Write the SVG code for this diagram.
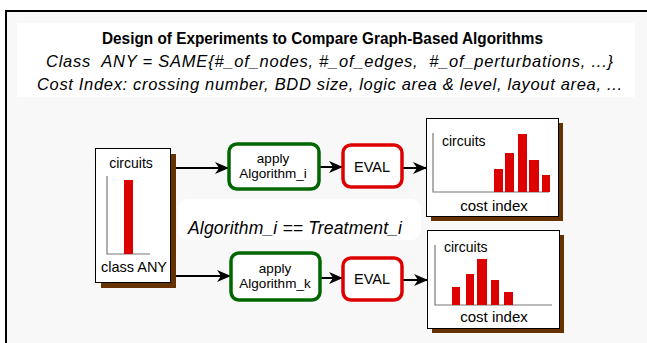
<svg xmlns="http://www.w3.org/2000/svg" width="647" height="343" viewBox="0 0 647 343">
<style>
text{font-family:"Liberation Sans",Arial,sans-serif;fill:#000}
.t{font-size:13px;text-anchor:middle}
.it{font-style:italic}
.g{fill:#fff;stroke:#006600;stroke-width:3.5}
.r{fill:#fff;stroke:#dd0000;stroke-width:3.5}
.bx{fill:#fff;stroke:#000;stroke-width:1}
.sh{fill:#663300}
.ax{fill:none;stroke:#777;stroke-width:1.2}
.bar{fill:#dd0000}
.cn{stroke:#000;stroke-width:2;fill:none;marker-end:url(#ah)}
</style>
<defs>
<marker id="ah" markerWidth="14" markerHeight="12" refX="13" refY="6" orient="auto" markerUnits="userSpaceOnUse">
<path d="M0,0 L14,6 L0,12 L4,6 Z" fill="#000"/>
</marker>
</defs>
<rect x="0" y="0" width="647" height="343" fill="#fff"/>
<rect x="6" y="11" width="700" height="400" fill="#f8f8f8" stroke="#000" stroke-width="2"/>
<g id="header">
<rect x="17" y="23" width="618" height="74" fill="#fff"/>
<text x="102" y="44" font-size="16" font-weight="bold" textLength="441" lengthAdjust="spacingAndGlyphs">Design of Experiments to Compare Graph-Based Algorithms</text>
<text x="46" y="67" font-size="16.5" class="it" textLength="567" lengthAdjust="spacing" xml:space="preserve">Class  ANY = SAME{#_of_nodes, #_of_edges,  #_of_perturbations, ...}</text>
<text x="37" y="90" font-size="16.5" class="it" textLength="585" lengthAdjust="spacing">Cost Index: crossing number, BDD size, logic area &amp; level, layout area, ...</text>
</g>
<g id="treatment">
<rect x="178" y="199" width="243" height="41" rx="10" fill="#fff"/>
<text x="188" y="234" font-size="17.5" class="it" textLength="214" lengthAdjust="spacing">Algorithm_i == Treatment_i</text>
</g>
<g id="connectors">
<line class="cn" x1="176" y1="168" x2="228" y2="168"/>
<line class="cn" x1="176" y1="276" x2="230" y2="276"/>
<line class="cn" x1="320" y1="167" x2="342" y2="167"/>
<line class="cn" x1="321" y1="278" x2="342" y2="278"/>
<line class="cn" x1="403" y1="168" x2="426" y2="168"/>
<line class="cn" x1="403" y1="280" x2="427" y2="280"/>
</g>
<g id="classAny">
<rect class="sh" x="101" y="154" width="75" height="134"/>
<rect class="bx" x="95.5" y="148.5" width="75" height="134"/>
<text class="t" x="131" y="168" style="font-size:14px">circuits</text>
<polyline class="ax" points="107,176 107,254 150,254"/>
<rect class="bar" x="124" y="180" width="9" height="74"/>
<text class="t" x="134" y="272" style="font-size:14.5px">class ANY</text>
</g>
<g id="algI">
<rect class="g" x="229" y="144" width="90" height="45" rx="8"/>
<text class="t" x="273" y="163" style="font-size:13.5px">apply</text>
<text class="t" x="273" y="178" style="font-size:13.5px">Algorithm_i</text>
</g>
<g id="algK">
<rect class="g" x="231" y="253" width="89" height="47" rx="8"/>
<text class="t" x="275" y="273" style="font-size:13.5px">apply</text>
<text class="t" x="275" y="288" style="font-size:13.5px">Algorithm_k</text>
</g>
<g id="eval1">
<rect class="r" x="343" y="145" width="59" height="42" rx="8"/>
<text class="t" x="372" y="172" style="font-size:14.5px">EVAL</text>
</g>
<g id="eval2">
<rect class="r" x="343" y="258" width="59" height="42" rx="8"/>
<text class="t" x="372" y="284" style="font-size:14.5px">EVAL</text>
</g>
<g id="hist1">
<rect class="sh" x="431" y="123" width="132" height="98"/>
<rect class="bx" x="426.5" y="118.5" width="132" height="98"/>
<polyline class="ax" points="433,133 433,192 549,192"/>
<text x="442" y="146" font-size="14">circuits</text>
<rect class="bar" x="494" y="169" width="9" height="23"/>
<rect class="bar" x="505" y="153" width="9" height="39"/>
<rect class="bar" x="518" y="134" width="9" height="58"/>
<rect class="bar" x="529" y="160" width="10" height="32"/>
<rect class="bar" x="542" y="175" width="8" height="17"/>
<text class="t" x="494" y="211" style="font-size:15px">cost index</text>
</g>
<g id="hist2">
<rect class="sh" x="432" y="235" width="132" height="98"/>
<rect class="bx" x="427.5" y="230.5" width="132" height="98"/>
<polyline class="ax" points="435,245 435,305 552,305"/>
<text x="444" y="252" font-size="14">circuits</text>
<rect class="bar" x="452" y="287" width="8" height="18"/>
<rect class="bar" x="466" y="274" width="8" height="31"/>
<rect class="bar" x="477" y="259" width="10" height="46"/>
<rect class="bar" x="491" y="280" width="8" height="25"/>
<rect class="bar" x="504" y="292" width="9" height="13"/>
<text class="t" x="494" y="322" style="font-size:15px">cost index</text>
</g>
</svg>
